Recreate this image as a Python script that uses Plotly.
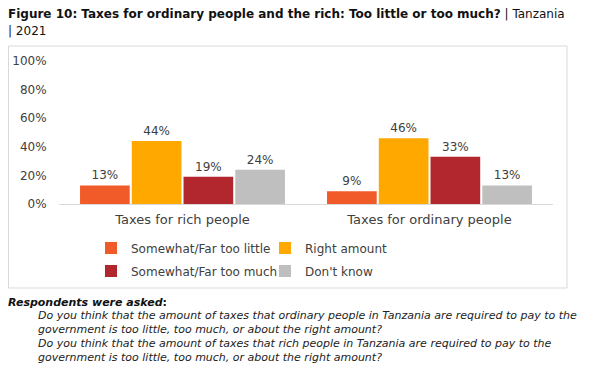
import plotly.graph_objects as go

categories = ["Taxes for rich people", "Taxes for ordinary people"]
series_names = ["Somewhat/Far too little", "Right amount", "Somewhat/Far too much", "Don't know"]
too_little = [13, 9]
right_amount = [44, 46]
too_much = [19, 33]
dont_know = [24, 13]
y_ticks = [0, 20, 40, 60, 80, 100]
y_tick_labels = ["0%", "20%", "40%", "60%", "80%", "100%"]

colors = ["#F15A29", "#FFA800", "#B2262E", "#BFBFBF"]
legend_ids = ["legend", "legend", "legend2", "legend2"]
FONT = "DejaVu Sans"
TXT = "#404040"

# page has an 8px body margin; figure sized so page is 602x368
OFF = 8
W, H = 602 - OFF, 368 - OFF
PL, PR, PT, PB = 59, 553, 61, 204  # plot area in page pixels


def fx(px):
    return (px - PL) / (PR - PL)


def fy(py):
    return (PB - py) / (PB - PT)


fig = go.Figure()
for name, vals, col, lg in zip(series_names, [too_little, right_amount, too_much, dont_know], colors, legend_ids):
    fig.add_trace(go.Bar(
        x=categories, y=vals, name=name, legend=lg,
        marker=dict(color=col, line=dict(width=0)),
        text=[f"{v}%" for v in vals], textposition="outside",
        textfont=dict(family=FONT, size=12, color=TXT),
        cliponaxis=False,
    ))

annotations = [
    dict(x=fx(5.5), y=fy(14), xref="paper", yref="paper", xanchor="left", yanchor="middle",
         text="<b>Figure 10: Taxes for ordinary people and the rich: Too little or too much?</b> | Tanzania",
         showarrow=False, font=dict(family=FONT, size=12, color="#111111")),
    dict(x=fx(5.5), y=fy(31), xref="paper", yref="paper", xanchor="left", yanchor="middle",
         text="| 2021", showarrow=False, font=dict(family=FONT, size=12, color="#111111")),
    dict(x=fx(5.5), y=fy(302), xref="paper", yref="paper", xanchor="left", yanchor="middle",
         text="<b><i>Respondents were asked</i>:</b>", showarrow=False,
         font=dict(family=FONT, size=11, color="#111111")),
]
lines = [
    "Do you think that the amount of taxes that ordinary people in Tanzania are required to pay to the",
    "government is too little, too much, or about the right amount?",
    "Do you think that the amount of taxes that rich people in Tanzania are required to pay to the",
    "government is too little, too much, or about the right amount?",
]
for i, ln in enumerate(lines):
    annotations.append(dict(x=fx(35.5), y=fy(315 + 14 * i), xref="paper", yref="paper",
                            xanchor="left", yanchor="middle", text=f"<i>{ln}</i>", showarrow=False,
                            font=dict(family=FONT, size=11, color="#222222")))

legend_common = dict(orientation="h", xanchor="left", yanchor="middle",
                     entrywidth=129, entrywidthmode="pixels", itemwidth=30,
                     font=dict(family=FONT, size=12, color=TXT), bgcolor="rgba(0,0,0,0)",
                     traceorder="normal")

fig.update_layout(
    width=W, height=H, autosize=False,
    margin=dict(l=PL - OFF, r=W - (PR - OFF), t=PT - OFF, b=H - (PB - OFF), pad=0),
    paper_bgcolor="white", plot_bgcolor="white",
    barmode="group", bargap=0.162, bargroupgap=0.04,
    font=dict(family=FONT, size=12, color=TXT),
    showlegend=True,
    legend=dict(x=fx(91), y=fy(248), **legend_common),
    legend2=dict(x=fx(91), y=fy(271), **legend_common),
    xaxis=dict(showline=True, linecolor="#D9D9D9", linewidth=1, showgrid=False, automargin=False,
               ticks="outside", ticklen=3, tickcolor="rgba(0,0,0,0)",
               tickfont=dict(family=FONT, size=13, color=TXT), fixedrange=True),
    yaxis=dict(range=[0, 100], tickvals=y_ticks, ticktext=y_tick_labels, showgrid=False,
               automargin=False, showline=False, zeroline=False, ticks="outside", ticklen=9,
               tickcolor="rgba(0,0,0,0)", tickfont=dict(family=FONT, size=12, color=TXT)),
    annotations=annotations,
    shapes=[dict(type="rect", xref="paper", yref="paper", x0=fx(8.5), x1=fx(567), y0=fy(46), y1=fy(288),
                 line=dict(color="#D9D9D9", width=1), fillcolor="rgba(0,0,0,0)", layer="below")],
)

fig.write_html("out.html")
